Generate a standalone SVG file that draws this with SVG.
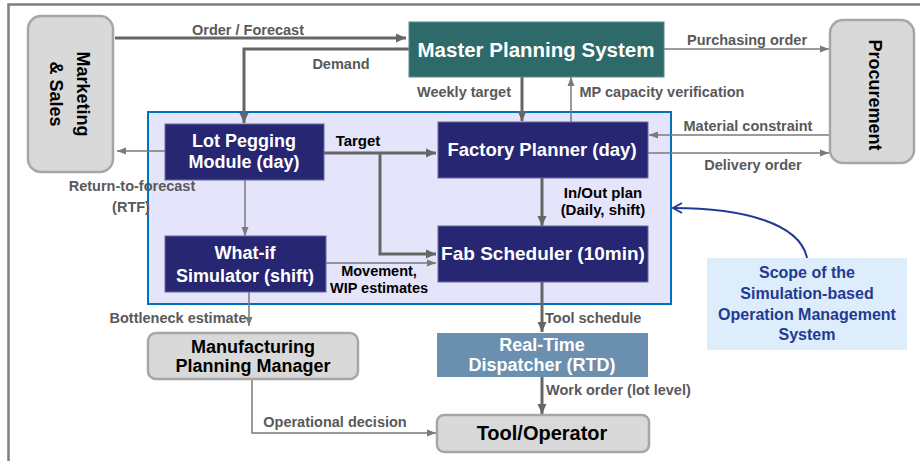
<svg xmlns="http://www.w3.org/2000/svg" width="920" height="461" viewBox="0 0 920 461">
<style>
.frame{fill:none;stroke:#7f7f7f;stroke-width:2.5}
.grey{fill:#d9d9d9;stroke:#a6a6a6;stroke-width:2.5}
.navy{fill:#262672;stroke:#6a6aa0;stroke-width:1}
.teal{fill:#2f6a6a;stroke:#5a8e8e;stroke-width:1}
.rtd{fill:#6b8fae}
.scope{fill:#e4e4fb;stroke:#0070c0;stroke-width:2}
.note{fill:#deedfb}
.wt{font-family:"Liberation Sans",Arial,sans-serif;font-weight:bold;fill:#ffffff;text-anchor:middle}
.bt{font-family:"Liberation Sans",Arial,sans-serif;font-weight:bold;fill:#000000;text-anchor:middle}
.lbl{font-family:"Liberation Sans",Arial,sans-serif;font-weight:bold;font-size:14.5px;fill:#595959;text-anchor:middle}
.lblk{font-family:"Liberation Sans",Arial,sans-serif;font-weight:bold;font-size:15px;fill:#000000;text-anchor:middle}
.blue{font-family:"Liberation Sans",Arial,sans-serif;font-weight:bold;font-size:16px;fill:#1f3a93;text-anchor:middle}
.thick{fill:none;stroke:#666666;stroke-width:3}
.thin{fill:none;stroke:#7a7a7a;stroke-width:1.5}
</style>
<defs>
<marker id="ah" markerUnits="userSpaceOnUse" markerWidth="11" markerHeight="10" refX="10" refY="5" orient="auto">
<path d="M0,0.5 L10,5 L0,9.5 z" fill="#666666"/>
</marker>
<marker id="ahs" markerUnits="userSpaceOnUse" markerWidth="10" markerHeight="8" refX="9" refY="4" orient="auto">
<path d="M0,0.5 L9,4 L0,7.5 z" fill="#7a7a7a"/>
</marker>
<marker id="ahb" markerUnits="userSpaceOnUse" markerWidth="12" markerHeight="12" refX="10" refY="6" orient="auto">
<path d="M1,1 L10,6 L1,11" fill="none" stroke="#1f3a93" stroke-width="2"/>
</marker>
</defs>

<path class="frame" d="M920,4.5 H8.5 V461"/>

<g id="scope-area">
<rect class="scope" x="148" y="112" width="523" height="192"/>
</g>

<g id="connectors">
<path class="thick" d="M115,38 H406" marker-end="url(#ah)"/>
<path class="thick" d="M409,49 H244 V123" marker-end="url(#ah)"/>
<path class="thin" d="M165,151 H117" marker-end="url(#ahs)"/>
<path class="thick" d="M324,153 H436" marker-end="url(#ah)"/>
<path class="thick" d="M380,153 V254 H436" marker-end="url(#ah)"/>
<path class="thin" d="M245,180 V236" marker-end="url(#ahs)"/>
<path class="thin" d="M326,263 H436" marker-end="url(#ahs)"/>
<path class="thick" d="M522,77 V121" marker-end="url(#ah)"/>
<path class="thin" d="M571,122 V77" marker-end="url(#ahs)"/>
<path class="thin" d="M664,49 H829" marker-end="url(#ahs)"/>
<path class="thin" d="M830,135 H649" marker-end="url(#ahs)"/>
<path class="thin" d="M648,153 H829" marker-end="url(#ahs)"/>
<path class="thick" d="M542,178 V226" marker-end="url(#ah)"/>
<path class="thick" d="M542,282 V332" marker-end="url(#ah)"/>
<path class="thick" d="M542,377 V414" marker-end="url(#ah)"/>
<path class="thin" d="M249,292 V326" marker-end="url(#ahs)"/>
<path class="thin" d="M252,379 V433 H436" marker-end="url(#ahs)"/>
<path d="M807,258 C800,224 745,208 673,208" fill="none" stroke="#1f3a93" stroke-width="2" marker-end="url(#ahb)"/>

<text class="lbl" x="248" y="35">Order / Forecast</text>
<text class="lbl" x="341" y="69">Demand</text>
<text class="lbl" x="464" y="97">Weekly target</text>
<text class="lbl" x="662" y="97">MP capacity verification</text>
<text class="lbl" x="747" y="45">Purchasing order</text>
<text class="lbl" x="748" y="131">Material constraint</text>
<text class="lbl" x="753" y="170">Delivery order</text>
<text class="lbl" x="132" y="191">Return-to-forecast</text>
<text class="lbl" x="131" y="212">(RTF)</text>
<text class="lblk" x="358" y="146">Target</text>
<text class="lblk" x="603" y="198">In/Out plan</text>
<text class="lblk" x="603" y="215">(Daily, shift)</text>
<text class="lblk" x="379" y="276" style="font-size:14.5px">Movement,</text>
<text class="lblk" x="379" y="293" style="font-size:14.5px">WIP estimates</text>
<text class="lbl" x="178" y="323">Bottleneck estimate</text>
<text class="lbl" x="335" y="427">Operational decision</text>
<text class="lbl" x="545" y="323" style="text-anchor:start">Tool schedule</text>
<text class="lbl" x="546" y="395" style="text-anchor:start">Work order (lot level)</text>
</g>

<g id="marketing-sales">
<rect class="grey" x="28" y="16" width="85" height="156" rx="13"/>
<g transform="rotate(90)">
<text class="bt" x="94" y="-77" font-size="18">Marketing</text>
<text class="bt" x="94" y="-50" font-size="18">&amp; Sales</text>
</g>
</g>

<g id="procurement">
<rect class="grey" x="830" y="20" width="84" height="143" rx="13"/>
<g transform="rotate(90)">
<text class="bt" x="95" y="-869" font-size="18">Procurement</text>
</g>
</g>

<g id="master-planning-system">
<rect class="teal" x="409" y="22" width="255" height="55"/>
<text class="wt" x="536" y="57" font-size="20.5">Master Planning System</text>
</g>

<g id="lot-pegging-module">
<rect class="navy" x="165" y="124" width="159" height="56"/>
<text class="wt" x="244" y="147" font-size="18">Lot Pegging</text>
<text class="wt" x="244" y="168" font-size="18">Module (day)</text>
</g>

<g id="factory-planner">
<rect class="navy" x="438" y="122" width="210" height="56"/>
<text class="wt" x="542" y="156" font-size="18.5">Factory Planner (day)</text>
</g>

<g id="what-if-simulator">
<rect class="navy" x="165" y="236" width="161" height="56"/>
<text class="wt" x="245" y="259" font-size="18">What-if</text>
<text class="wt" x="245" y="282" font-size="18">Simulator (shift)</text>
</g>

<g id="fab-scheduler">
<rect class="navy" x="438" y="226" width="210" height="56"/>
<text class="wt" x="543" y="260" font-size="19">Fab Scheduler (10min)</text>
</g>

<g id="manufacturing-planning-manager">
<rect class="grey" x="148" y="333" width="210" height="46" rx="8"/>
<text class="bt" x="253" y="353" font-size="18">Manufacturing</text>
<text class="bt" x="253" y="372" font-size="18">Planning Manager</text>
</g>

<g id="real-time-dispatcher">
<rect class="rtd" x="437" y="333" width="211" height="44"/>
<text class="wt" x="542" y="351" font-size="18">Real-Time</text>
<text class="wt" x="542" y="371" font-size="18">Dispatcher (RTD)</text>
</g>

<g id="tool-operator">
<rect class="grey" x="437" y="415" width="212" height="37" rx="7"/>
<text class="bt" x="542" y="440" font-size="20">Tool/Operator</text>
</g>

<g id="scope-note">
<rect class="note" x="707" y="258" width="200" height="92"/>
<text class="blue" x="807" y="278">Scope of the</text>
<text class="blue" x="807" y="299">Simulation-based</text>
<text class="blue" x="807" y="320">Operation Management</text>
<text class="blue" x="807" y="340">System</text>
</g>
</svg>
